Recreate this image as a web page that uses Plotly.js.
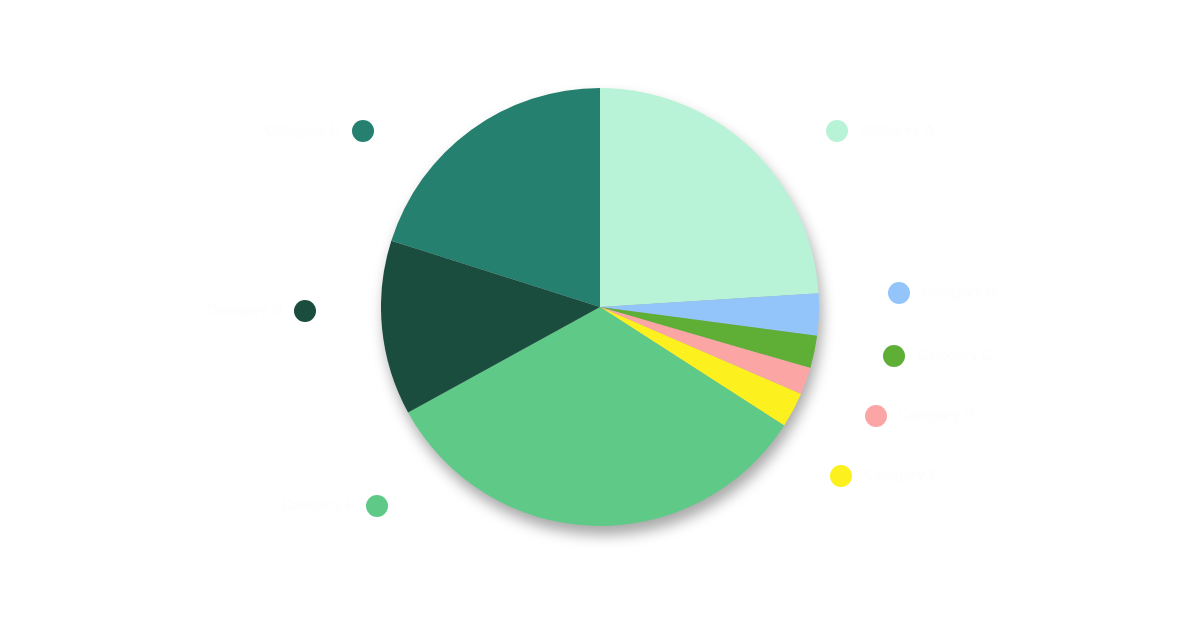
<!DOCTYPE html>
<html>
<head>
<meta charset="utf-8">
<script src="https://cdn.plot.ly/plotly-3.0.1.min.js"></script>
<style>
  html, body { margin: 0; padding: 0; background: #ffffff; }
  #chart { width: 1200px; height: 635px; }
  .pielayer { filter: drop-shadow(3px 9px 7px rgba(0,0,0,0.34)); }
</style>
</head>
<body>
<div id="chart"></div>
<script>
// Data (share in %)
const categories = ["Category A", "Category B", "Category C", "Category D", "Category E", "Category F", "Category G", "Category H"];
const values = [24.0, 3.1, 2.4, 2.0, 2.6, 32.9, 12.9, 20.1];
const colors = ["#b9f3d7", "#93c5fb", "#5fae36", "#fca5a5", "#fcf11e", "#5fca88", "#1b4d3e", "#26806f"];

// Label marker placement (layout, px)
const labelX = [837, 899, 894, 876, 841, 377, 305, 363];
const labelY = [131, 293, 356, 416, 476, 506, 311, 131];
const labelSide = ["middle right", "middle right", "middle right", "middle right", "middle right", "middle left", "middle left", "middle left"];

const W = 1200, H = 635;
const cx = 600, cy = 307, r = 219;

const pie = {
  type: "pie",
  labels: categories,
  values: values,
  sort: false,
  direction: "clockwise",
  rotation: 0,
  textinfo: "none",
  hoverinfo: "label+percent",
  marker: { colors: colors, line: { width: 0 } },
  domain: { x: [(cx - r) / W, (cx + r) / W], y: [(H - cy - r) / H, (H - cy + r) / H] },
  showlegend: false
};

const dots = {
  type: "scatter",
  mode: "markers+text",
  x: labelX,
  y: labelY,
  text: categories.map(c => "  " + c + "  "),
  textposition: labelSide,
  textfont: { family: "Inter, sans-serif", size: 14, color: "#fdfdfd" },
  marker: { size: 22, color: colors, line: { width: 0 } },
  hoverinfo: "skip",
  showlegend: false,
  cliponaxis: false
};

const layout = {
  width: W, height: H,
  margin: { l: 0, r: 0, t: 0, b: 0 },
  paper_bgcolor: "#ffffff",
  plot_bgcolor: "rgba(0,0,0,0)",
  xaxis: { range: [0, W], visible: false, fixedrange: true },
  yaxis: { range: [H, 0], visible: false, fixedrange: true },
  showlegend: false
};

Plotly.newPlot("chart", [dots, pie], layout, { displayModeBar: false, staticPlot: true });
</script>
</body>
</html>
